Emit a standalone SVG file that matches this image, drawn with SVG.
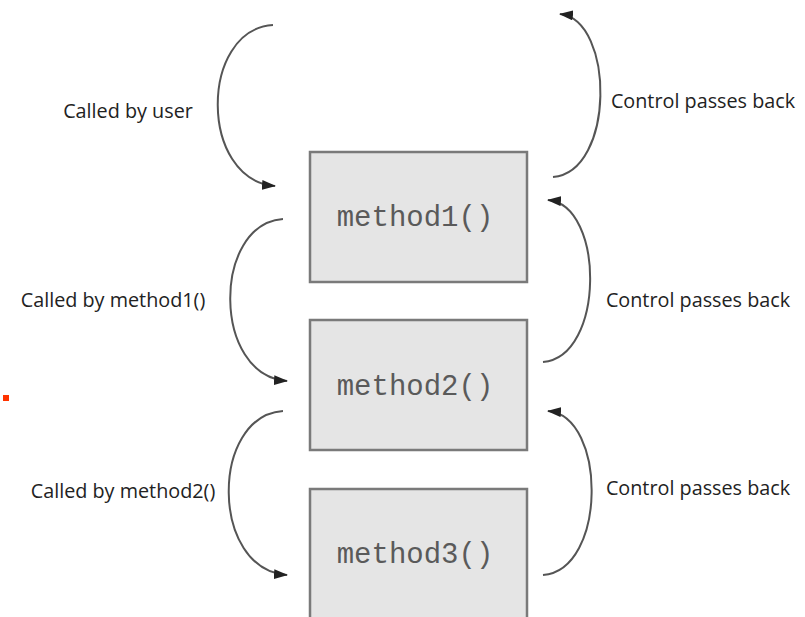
<svg xmlns="http://www.w3.org/2000/svg" width="805" height="617" viewBox="0 0 805 617">
<defs>
<marker id="ah" markerWidth="14" markerHeight="10" refX="13" refY="5" orient="auto" markerUnits="userSpaceOnUse">
<path d="M0,0 L14,5 L0,10 Z" fill="#222"/>
</marker>
<style>
.box{fill:#e5e5e5;stroke:#7a7a7a;stroke-width:2.5}
.mt{font-family:"Liberation Mono","Courier New",monospace;font-size:29px;fill:#5a5a5a;text-anchor:middle}
.lb{font-family:"Open Sans","Liberation Sans",sans-serif;font-size:19.8px;fill:#222;text-anchor:middle}
.arc{fill:none;stroke:#555;stroke-width:2;marker-end:url(#ah)}
</style>
</defs>
<rect width="805" height="617" fill="#fff"/>
<g id="connectors">
<path class="arc" d="M273,25 C199,30 199,180 275,186"/>
<path class="arc" d="M283,219 C212,224 212,376 287,381"/>
<path class="arc" d="M283,411 C210,416 210,570 287,575"/>
<path class="arc" d="M553,177 C615,172 615,20 560,14"/>
<path class="arc" d="M543,362 C605,357 605,205 548,200"/>
<path class="arc" d="M543,575 C607,570 607,416 548,411"/>
</g>
<g id="method1"><rect class="box" x="310" y="152" width="217" height="130"/><text class="mt" x="415" y="226">method1()</text></g>
<g id="method2"><rect class="box" x="310" y="320" width="217" height="130"/><text class="mt" x="415" y="395">method2()</text></g>
<g id="method3"><rect class="box" x="310" y="489" width="217" height="140"/><text class="mt" x="415" y="563">method3()</text></g>
<g id="labels">
<text class="lb" x="128" y="118">Called by user</text>
<text class="lb" x="113" y="307">Called by method1()</text>
<text class="lb" x="123" y="498">Called by method2()</text>
<text class="lb" x="703" y="108">Control passes back</text>
<text class="lb" x="698" y="307">Control passes back</text>
<text class="lb" x="698" y="495">Control passes back</text>
</g>
<rect x="3" y="395" width="6" height="6" fill="#ff3300"/>
</svg>
